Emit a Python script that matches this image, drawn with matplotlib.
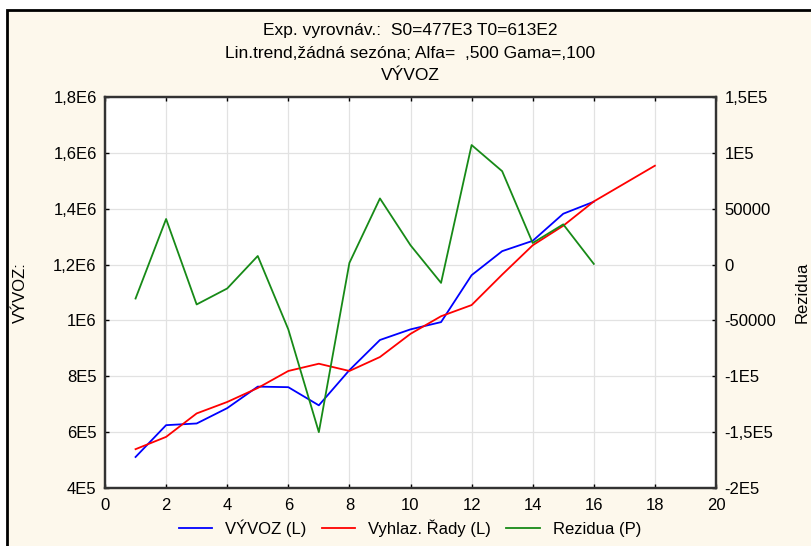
import matplotlib
matplotlib.use("Agg")
import matplotlib.pyplot as plt
from matplotlib.patches import Rectangle

plt.rcParams['font.family'] = ['Liberation Sans', 'DejaVu Sans']

# data
t_data = [1, 2, 3, 4, 5, 6, 7, 8, 9, 10, 11, 12, 13, 14, 15, 16]
vyvoz = [511e3, 625e3, 631e3, 686e3, 763e3, 761e3, 696e3, 822e3,
         930e3, 968e3, 994e3, 1162e3, 1248e3, 1285e3, 1382e3, 1425e3]

t_smooth = [1, 2, 3, 4, 5, 6, 7, 8, 9, 10, 11, 12, 13, 14, 15, 16, 17, 18]
vyhlaz = [539e3, 583e3, 667e3, 708e3, 758e3, 819e3, 845e3, 819e3, 869e3,
          952e3, 1015e3, 1055e3, 1164e3, 1269e3, 1339e3, 1426e3, 1490e3, 1554e3]

rezidua = [-30400, 40800, -35700, -21400, 7700, -58000, -150000, 1500,
           59200, 17300, -16400, 107000, 83600, 19300, 36000, 600]

left_ticks = [4e5, 6e5, 8e5, 1e6, 1.2e6, 1.4e6, 1.6e6, 1.8e6]
left_labels = ['4E5', '6E5', '8E5', '1E6', '1,2E6', '1,4E6', '1,6E6', '1,8E6']
right_ticks = [-2e5, -1.5e5, -1e5, -5e4, 0, 5e4, 1e5, 1.5e5]
right_labels = ['-2E5', '-1,5E5', '-1E5', '-50000', '0', '50000', '1E5', '1,5E5']
x_ticks = [0, 2, 4, 6, 8, 10, 12, 14, 16, 18, 20]

cream = '#fdf8ec'
W, H = 811, 546
fig = plt.figure(figsize=(W / 100, H / 100), dpi=100)
fig.patch.set_facecolor('white')

# outer panel with a black frame
frame = Rectangle((7 / W, -0.2), 1.2, 1 - 10 / H + 0.2,
                  transform=fig.transFigure, facecolor=cream,
                  edgecolor='black', linewidth=2, zorder=-10)
fig.patches.append(frame)

ax = fig.add_axes([105 / W, 1 - 488 / H, (716 - 105) / W, (488 - 97) / H])
ax.set_facecolor('white')
ax2 = ax.twinx()

l1, = ax.plot(t_data, vyvoz, color='#0000ff', lw=1.3)
l2, = ax.plot(t_smooth, vyhlaz, color='#ff0000', lw=1.3)
l3, = ax2.plot(t_data, rezidua, color='#178a17', lw=1.3)

ax.set_xlim(0, 20)
ax.set_ylim(4e5, 1.8e6)
ax2.set_ylim(-2e5, 1.5e5)
ax.set_xticks(x_ticks)
ax.set_yticks(left_ticks)
ax.set_yticklabels(left_labels)
ax2.set_yticks(right_ticks)
ax2.set_yticklabels(right_labels)

ax.grid(True, color='#e2e2e2', lw=0.9)
ax.set_axisbelow(True)

for a in (ax, ax2):
    a.tick_params(direction='in', length=3, width=1, labelsize=12,
                  colors='black', pad=6)
    for s in a.spines.values():
        s.set_color('#333333')
        s.set_linewidth(1.6)
ax.tick_params(axis='x', top=True, pad=7)

ax.set_ylabel('VÝVOZ:', fontsize=12)
ax.yaxis.set_label_coords((28 - 105) / 611, 0.5)
ax2.set_ylabel('Rezidua', fontsize=12)
ax2.yaxis.set_label_coords((795 - 105) / 611, 0.5)

cx = 410 / W
fig.text(cx, 1 - 30 / H, 'Exp. vyrovnáv.:  S0=477E3 T0=613E2', ha='center', va='center', fontsize=12.5)
fig.text(cx, 1 - 53 / H, 'Lin.trend,žádná sezóna; Alfa=  ,500 Gama=,100', ha='center', va='center', fontsize=12.5)
fig.text(cx, 1 - 76 / H, 'VÝVOZ', ha='center', va='center', fontsize=12.5)

fig.legend([l1, l2, l3], ['VÝVOZ (L)', 'Vyhlaz. Řady (L)', 'Rezidua (P)'],
           loc='center', bbox_to_anchor=(cx, 1 - 528 / H), ncol=3,
           frameon=False, fontsize=12, handlelength=2.0, columnspacing=0.9,
           handletextpad=0.8)

fig.savefig('out.png', dpi=100, facecolor=fig.get_facecolor())
